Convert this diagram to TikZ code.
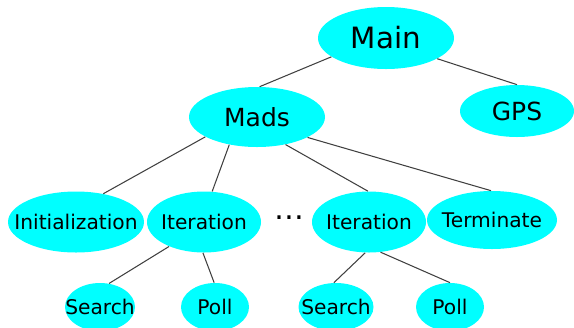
\documentclass[tikz,border=0pt]{standalone}
\usepackage{fontspec}
\setmainfont{DejaVu Sans}
\usetikzlibrary{shapes.geometric}
\definecolor{aqua}{rgb}{0,1,1}
\definecolor{linegray}{rgb}{0.25,0.25,0.25}
\newcommand{\noboxwidth}[1]{\makebox[0pt]{#1}}

\begin{document}
\begin{tikzpicture}[
  blob/.style={ellipse,fill=aqua,draw=none,inner sep=0pt},
  edge/.style={linegray,line width=0.6pt}
]
\useasboundingbox (0,0) rectangle (11.48,-6.54);
\clip (0,0) rectangle (11.48,-6.54);

%% top
\node [blob,minimum width=2.72cm,minimum height=1.24cm] (main) at (7.72,-0.76) {\fontsize{16.7}{20}\selectfont\noboxwidth{Main}};
\node [blob,minimum width=2.72cm,minimum height=1.20cm] (mads) at (5.14,-2.34) {\fontsize{14.2}{17}\selectfont\noboxwidth{Mads}};
\node [blob,minimum width=2.28cm,minimum height=1.04cm] (gps) at (10.34,-2.22) {\fontsize{14.2}{17}\selectfont\noboxwidth{GPS}};

%% middle row
\node [blob,minimum width=2.72cm,minimum height=1.22cm] (init) at (1.52,-4.44) {\fontsize{11.5}{14}\selectfont\noboxwidth{Initialization}};
\node [blob,minimum width=2.28cm,minimum height=1.22cm] (iterA) at (4.08,-4.44) {\fontsize{11.5}{14}\selectfont\noboxwidth{Iteration}};
\node [inner sep=0pt] (dots) at (5.78,-4.35) {\fontsize{17}{20}\selectfont …};
\node [blob,minimum width=2.28cm,minimum height=1.22cm] (iterB) at (7.38,-4.44) {\fontsize{11.5}{14}\selectfont\noboxwidth{Iteration}};
\node [blob,minimum width=2.60cm,minimum height=1.16cm] (term) at (9.84,-4.40) {\fontsize{11.5}{14}\selectfont\noboxwidth{Terminate}};

%% bottom row
\node [blob,minimum width=1.40cm,minimum height=0.96cm] (searchA) at (2.00,-6.14) {\fontsize{11.5}{14}\selectfont\noboxwidth{Search}};
\node [blob,minimum width=1.36cm,minimum height=0.96cm] (pollA) at (4.30,-6.14) {\fontsize{11.5}{14}\selectfont\noboxwidth{Poll}};
\node [blob,minimum width=1.50cm,minimum height=0.96cm] (searchB) at (6.72,-6.14) {\fontsize{11.5}{14}\selectfont\noboxwidth{Search}};
\node [blob,minimum width=1.36cm,minimum height=0.96cm] (pollB) at (9.00,-6.14) {\fontsize{11.5}{14}\selectfont\noboxwidth{Poll}};

%% connectors
\draw [edge] (main.199) -- (mads.85);
\draw [edge] (main.338) -- (gps.90);
\draw [edge] (mads.201) -- (init.46);
\draw [edge] (mads.225) -- (iterA.75);
\draw [edge] (mads.316) -- (iterB.92);
\draw [edge] (mads.338) -- (term.92);
\draw [edge] (iterA.215) -- (searchA.69);
\draw [edge] (iterA.268) -- (pollA.92);
\draw [edge] (iterB.263) -- (searchB.95);
\draw [edge] (iterB.291) -- (pollB.90);

\end{tikzpicture}
\end{document}
